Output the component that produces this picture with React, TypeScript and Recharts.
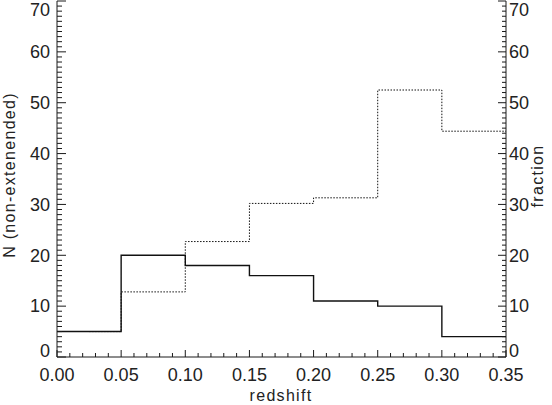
import React from "react";
import { LineChart, Line, XAxis, YAxis } from "recharts";

// histogram bin edges (redshift) and counts of non-extended sources
const countEdges = [0, 0.05, 0.1, 0.15, 0.2, 0.25, 0.3, 0.35];
const counts = [5, 20, 18, 16, 11, 10, 4];

// dotted curve: fraction, starts half a bin in
const fractionEdges = [0.025, 0.05, 0.1, 0.15, 0.2, 0.25, 0.3, 0.35];
const fractions = [5, 12.8, 22.7, 30.2, 31.3, 52.5, 44.4];

const xTicks = Array.from({ length: 36 }, (_, i) => i / 100);
const yTicks = Array.from({ length: 71 }, (_, i) => i);

const toSteps = (edges: number[], vals: number[]) =>
  edges.map((x, i) => ({ x, v: vals[Math.min(i, vals.length - 1)] }));

const countData = toSteps(countEdges, counts);
const fractionData = toSteps(fractionEdges, fractions);

const FONT = "'Liberation Sans', Arial, sans-serif";
const INK = "#1a1a1a";
const TXT = "#222";

const isMajorX = (v: number) => Math.round(v * 100) % 5 === 0;
const isMajorY = (v: number) => Math.round(v) % 10 === 0;

// keep the end labels inside the frame like the original
const labelY = (y: number) => Math.min(Math.max(y, 10), 351);

function BottomTick({ x, y, payload }: any) {
  const major = isMajorX(payload.value);
  return (
    <g>
      <line x1={x} x2={x} y1={y} y2={y - (major ? 7 : 4)} stroke={INK} />
      {major && (
        <text x={x} y={y + 24} textAnchor="middle" fontSize={18} fontFamily={FONT} fill={TXT}>
          {payload.value.toFixed(2)}
        </text>
      )}
    </g>
  );
}

function TopTick({ x, y, payload }: any) {
  const major = isMajorX(payload.value);
  return <line x1={x} x2={x} y1={y} y2={y + (major ? 7 : 4)} stroke={INK} />;
}

function LeftTick({ x, y, payload }: any) {
  const major = isMajorY(payload.value);
  return (
    <g>
      <line x1={x} x2={x + (major ? 9 : 5)} y1={y} y2={y} stroke={INK} />
      {major && (
        <text x={x - 7} y={labelY(y) + 6.3} textAnchor="end" fontSize={18} fontFamily={FONT} fill={TXT}>
          {payload.value}
        </text>
      )}
    </g>
  );
}

function RightTick({ x, y, payload }: any) {
  const major = isMajorY(payload.value);
  return (
    <g>
      <line x1={x} x2={x - (major ? 8 : 4)} y1={y} y2={y} stroke={INK} />
      {major && (
        <text x={x + 3} y={labelY(y) + 6.3} textAnchor="start" fontSize={18} fontFamily={FONT} fill={TXT}>
          {payload.value}
        </text>
      )}
    </g>
  );
}

const titleStyle: React.CSSProperties = {
  position: "absolute",
  fontFamily: FONT,
  fontSize: 16,
  letterSpacing: 1.3,
  color: TXT,
  whiteSpace: "nowrap",
  lineHeight: "16px",
};

export default function App() {
  return (
    <div style={{ position: "absolute", left: 0, top: 0, width: 552, height: 405, background: "#fff", overflow: "hidden" }}>
      <LineChart width={552} height={405} margin={{ top: 1, right: 0, bottom: 0, left: 0 }}>
        <XAxis
          xAxisId="b"
          type="number"
          dataKey="x"
          domain={[0, 0.35]}
          ticks={xTicks}
          interval={0}
          height={48}
          tickSize={0}
          tickMargin={0}
          tickLine={false}
          tick={<BottomTick />}
          axisLine={{ stroke: INK }}
          allowDataOverflow
        />
        <XAxis
          xAxisId="t"
          orientation="top"
          type="number"
          dataKey="x"
          domain={[0, 0.35]}
          ticks={xTicks}
          interval={0}
          height={0}
          tickSize={0}
          tickMargin={0}
          tickLine={false}
          tick={<TopTick />}
          axisLine={{ stroke: INK }}
          allowDataOverflow
        />
        <YAxis
          yAxisId="l"
          type="number"
          domain={[0, 70]}
          ticks={yTicks}
          interval={0}
          width={57}
          tickSize={0}
          tickMargin={0}
          tickLine={false}
          tick={<LeftTick />}
          axisLine={{ stroke: INK }}
          allowDataOverflow
        />
        <YAxis
          yAxisId="r"
          orientation="right"
          type="number"
          domain={[0, 70]}
          ticks={yTicks}
          interval={0}
          width={46}
          tickSize={0}
          tickMargin={0}
          tickLine={false}
          tick={<RightTick />}
          axisLine={{ stroke: INK }}
          allowDataOverflow
        />
        <Line
          xAxisId="b"
          yAxisId="l"
          data={countData}
          dataKey="v"
          type="stepAfter"
          stroke="#111"
          strokeWidth={1.4}
          dot={false}
          activeDot={false}
          isAnimationActive={false}
        />
        <Line
          xAxisId="b"
          yAxisId="l"
          data={fractionData}
          dataKey="v"
          type="stepAfter"
          stroke="#111"
          strokeWidth={1}
          strokeDasharray="1.5 1.5"
          dot={false}
          activeDot={false}
          isAnimationActive={false}
        />
      </LineChart>
      <div style={{ ...titleStyle, left: 281, top: 388, transform: "translateX(-50%)" }}>redshift</div>
      <div
        style={{
          ...titleStyle,
          left: 10,
          top: 175,
          transform: "translate(-50%, -50%) rotate(-90deg)",
        }}
      >
        N (non-extenended)
      </div>
      <div
        style={{
          ...titleStyle,
          left: 538,
          top: 176,
          transform: "translate(-50%, -50%) rotate(-90deg)",
        }}
      >
        fraction
      </div>
    </div>
  );
}
